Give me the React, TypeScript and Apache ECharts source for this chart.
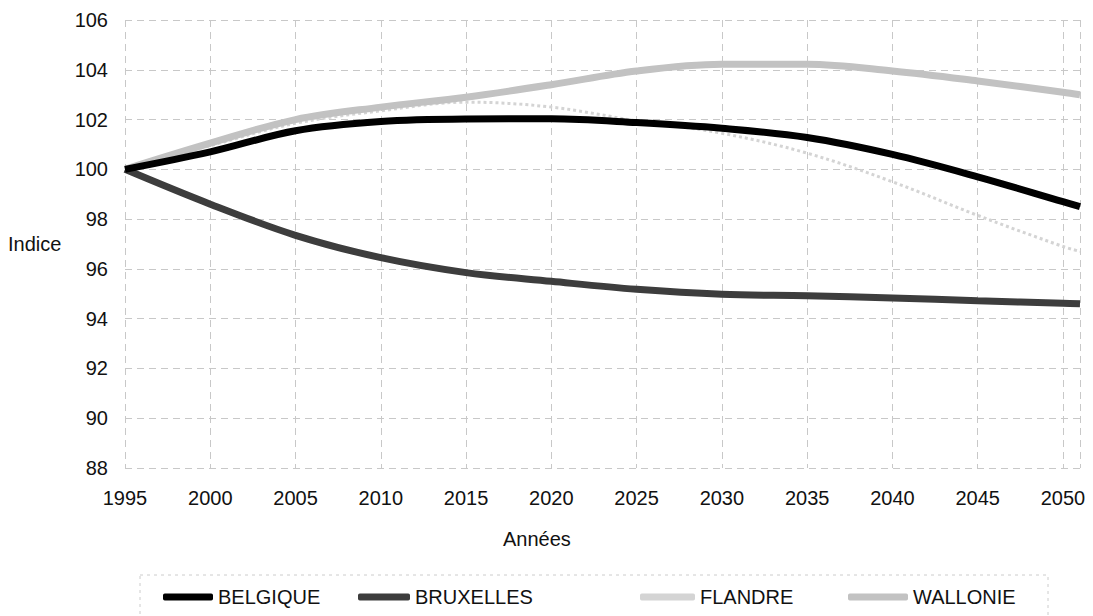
import React, { useEffect, useRef } from "react";
import * as echarts from "echarts";

const years = [1995, 2000, 2005, 2010, 2015, 2020, 2025, 2030, 2035, 2040, 2045, 2050, 2051];
const belgique = [100, 100.7, 101.55, 101.92, 102.02, 102.03, 101.88, 101.65, 101.28, 100.6, 99.7, 98.7, 98.5];
const bruxelles = [100, 98.6, 97.35, 96.45, 95.85, 95.5, 95.18, 94.98, 94.92, 94.83, 94.72, 94.62, 94.6];
const flandre = [100, 100.95, 101.85, 102.35, 102.7, 102.5, 101.95, 101.45, 100.65, 99.5, 98.15, 96.9, 96.7];
const wallonie = [100, 101.05, 102.0, 102.5, 102.9, 103.4, 103.95, 104.22, 104.22, 103.95, 103.55, 103.1, 103.0];

const seriesNames = ["BELGIQUE", "BRUXELLES", "FLANDRE", "WALLONIE"];
const xName = "Années";
const yName = "Indice";

const FONT = "'Liberation Sans', Arial, sans-serif";

function pairs(vals: number[]) {
  return years.map((y, i) => [y, vals[i]]);
}

export default function App() {
  const ref = useRef<HTMLDivElement>(null);
  useEffect(() => {
    if (!ref.current) return;
    const chart = echarts.init(ref.current, undefined, { renderer: "svg" });
    const gridLine = { show: true, lineStyle: { color: "#c8c8c8", width: 1, type: [7, 5] as any } };
    const legendCommon = {
      top: 582,
      icon: "roundRect",
      itemHeight: 7,
      textStyle: { fontFamily: FONT, fontSize: 20, color: "#111" },
      selectedMode: false,
    };
    chart.setOption({
      animation: false,
      backgroundColor: "#ffffff",
      grid: { left: 125, right: 13, top: 20, bottom: 148 },
      xAxis: {
        type: "value",
        min: 1995,
        max: 2051,
        interval: 5,
        axisLine: { show: false },
        axisTick: { show: false },
        splitLine: gridLine,
        axisLabel: {
          margin: 20,
          fontFamily: FONT,
          fontSize: 20,
          color: "#111",
          formatter: (v: number) => (v % 5 === 0 ? String(v) : ""),
        },
      },
      yAxis: {
        type: "value",
        min: 88,
        max: 106,
        interval: 2,
        axisLine: { show: false },
        axisTick: { show: false },
        splitLine: gridLine,
        axisLabel: { margin: 17, fontFamily: FONT, fontSize: 20, color: "#111" },
      },
      legend: [
        { ...legendCommon, left: 158, itemWidth: 50, data: [seriesNames[0]] },
        { ...legendCommon, left: 353, itemWidth: 52, data: [seriesNames[1]] },
        { ...legendCommon, left: 635, itemWidth: 55, data: [seriesNames[2]] },
        { ...legendCommon, left: 843, itemWidth: 60, data: [seriesNames[3]] },
      ],
      graphic: [
        {
          type: "rect",
          shape: { x: 140, y: 575, width: 908, height: 60 },
          style: { fill: "none", stroke: "#cccccc", lineWidth: 1, lineDash: [3, 4] },
        },
        {
          type: "text",
          left: 8,
          top: 234,
          style: { text: yName, fontFamily: FONT, fontSize: 20, fill: "#111" },
        },
        {
          type: "text",
          left: 503,
          top: 529,
          style: { text: xName, fontFamily: FONT, fontSize: 20, fill: "#111" },
        },
      ],
      series: [
        {
          name: seriesNames[2],
          type: "line",
          smooth: 0.35,
          showSymbol: false,
          z: 2,
          data: pairs(flandre),
          itemStyle: { color: "#d4d4d4" },
          lineStyle: { color: "#d4d4d4", width: 3, type: "dotted" },
        },
        {
          name: seriesNames[3],
          type: "line",
          smooth: 0.35,
          showSymbol: false,
          z: 3,
          data: pairs(wallonie),
          itemStyle: { color: "#c2c2c2" },
          lineStyle: { color: "#c2c2c2", width: 7 },
        },
        {
          name: seriesNames[1],
          type: "line",
          smooth: 0.35,
          showSymbol: false,
          z: 4,
          data: pairs(bruxelles),
          itemStyle: { color: "#3d3d3d" },
          lineStyle: { color: "#3d3d3d", width: 7 },
        },
        {
          name: seriesNames[0],
          type: "line",
          smooth: 0.35,
          showSymbol: false,
          z: 5,
          data: pairs(belgique),
          itemStyle: { color: "#000000" },
          lineStyle: { color: "#000000", width: 7 },
        },
      ],
    });
    return () => chart.dispose();
  }, []);
  return <div ref={ref} style={{ width: 1093, height: 616, position: "absolute", left: 0, top: 0 }} />;
}
